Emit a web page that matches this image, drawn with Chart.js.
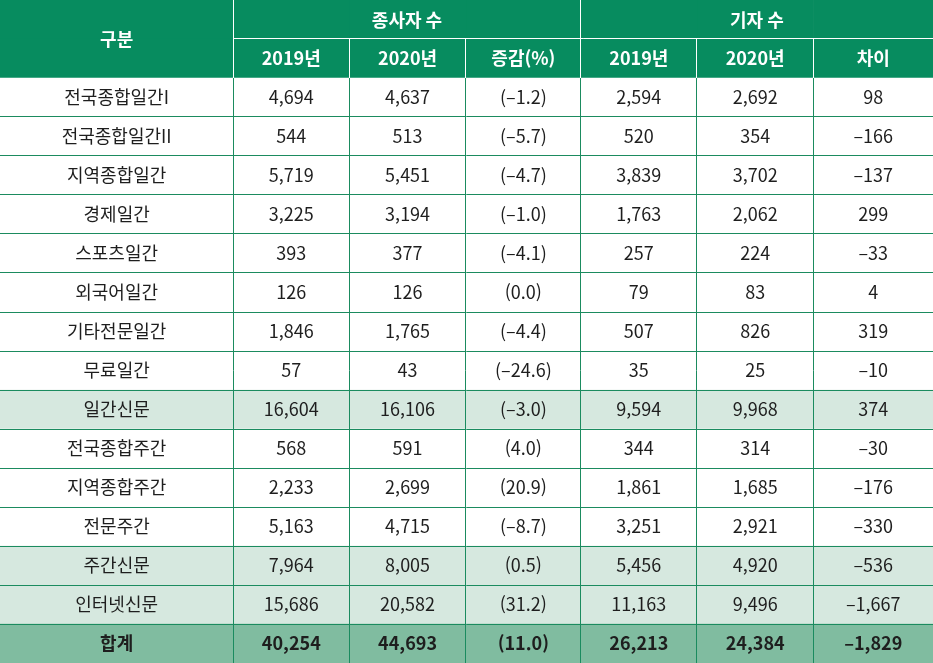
<!DOCTYPE html>
<html lang="ko">
<head>
  <meta charset="UTF-8">
  <script src="https://cdn.jsdelivr.net/npm/chart.js@4.4.1/dist/chart.umd.min.js"></script>
  <title>종사자 수 / 기자 수</title>
  <style>
    html, body { margin: 0; padding: 0; background: #fff; }
    #wrap { width: 933px; height: 663px; }
  </style>
</head>
<body>
  <div id="wrap"><canvas id="myChart"></canvas></div>
  <script>
  // 표 데이터
  const rowLabels = ['전국종합일간I', '전국종합일간II', '지역종합일간', '경제일간', '스포츠일간', '외국어일간',
    '기타전문일간', '무료일간', '일간신문', '전국종합주간', '지역종합주간', '전문주간', '주간신문', '인터넷신문', '합계'];
  const staff2019 = [4694, 544, 5719, 3225, 393, 126, 1846, 57, 16604, 568, 2233, 5163, 7964, 15686, 40254];
  const staff2020 = [4637, 513, 5451, 3194, 377, 126, 1765, 43, 16106, 591, 2699, 4715, 8005, 20582, 44693];
  const staffChange = [-1.2, -5.7, -4.7, -1.0, -4.1, 0.0, -4.4, -24.6, -3.0, 4.0, 20.9, -8.7, 0.5, 31.2, 11.0];
  const reporters2019 = [2594, 520, 3839, 1763, 257, 79, 507, 35, 9594, 344, 1861, 3251, 5456, 11163, 26213];
  const reporters2020 = [2692, 354, 3702, 2062, 224, 83, 826, 25, 9968, 314, 1685, 2921, 4920, 9496, 24384];
  const reporterDiff = [98, -166, -137, 299, -33, 4, 319, -10, 374, -30, -176, -330, -536, -1667, -1829];

  const firstHeader = '구분';
  const groupHeaders = ['종사자 수', '기자 수'];
  const subHeaders = ['2019년', '2020년', '증감(%)', '2019년', '2020년', '차이'];
  const subtotalRows = ['일간신문', '주간신문', '인터넷신문'];
  const totalRow = '합계';

  // 레이아웃 (열 너비 비율, 합 = 8)
  const colSpans = [2, 0.995, 1, 0.985, 0.995, 1, 1.025];
  const HEADER_ROWS = 2;
  const GREEN = '#078c5f';
  const LINE = '#1b8b5f';
  const LIGHT = '#d6e8df';
  const TOTAL = '#80bca0';
  const FONT = '"Noto Sans CJK KR", "Noto Sans", sans-serif';

  const fmt = v => v.toLocaleString('en-US').replace('-', '\u2013');
  function bodyCells(i) {
    return [rowLabels[i], fmt(staff2019[i]), fmt(staff2020[i]), '(' + staffChange[i].toFixed(1).replace('-', '\u2013') + ')',
      fmt(reporters2019[i]), fmt(reporters2020[i]), fmt(reporterDiff[i])];
  }

  const yLabels = ['head1', 'head2'].concat(rowLabels);
  const lastRow = yLabels.length - 1;

  function rowColor(r) {
    if (r < HEADER_ROWS) return GREEN;
    const name = yLabels[r];
    if (name === totalRow) return TOTAL;
    if (subtotalRows.includes(name)) return LIGHT;
    return '#ffffff';
  }

  // 열마다 하나의 데이터셋, 셀 = 떠있는 막대
  let start = 0;
  const datasets = colSpans.map(span => {
    const range = [start, start + span];
    start += span;
    return {
      data: yLabels.map(() => range),
      backgroundColor: ctx => rowColor(ctx.dataIndex),
      borderWidth: 0,
      barPercentage: 1,
      categoryPercentage: 1,
      grouped: false
    };
  });

  const tableLines = {
    id: 'tableLines',
    afterDatasetsDraw(chart) {
      const ctx = chart.ctx;
      const cell = (r, c) => chart.getDatasetMeta(c).data[r];
      const L = e => Math.min(e.x, e.base), R = e => Math.max(e.x, e.base);
      const T = e => e.y - e.height / 2, B = e => e.y + e.height / 2;
      const snap = v => Math.floor(v) + 0.5;
      const nCols = colSpans.length;
      const line = (x1, y1, x2, y2, color) => {
        ctx.beginPath();
        ctx.moveTo(x1, y1);
        ctx.lineTo(x2, y2);
        ctx.strokeStyle = color;
        ctx.stroke();
      };
      ctx.save();
      ctx.lineWidth = 1;

      // 헤더 (흰 선)
      const x0 = snap(R(cell(0, 0)));
      line(x0, T(cell(0, 0)), x0, B(cell(1, 0)), '#ffffff');
      const yh = snap(B(cell(0, 1)));
      line(L(cell(0, 1)), yh, R(cell(0, nCols - 1)), yh, '#ffffff');
      const x3 = snap(R(cell(0, 3)));
      line(x3, T(cell(0, 3)), x3, B(cell(0, 3)), '#ffffff');
      for (let c = 1; c < nCols - 1; c++) {
        const e = cell(1, c);
        line(snap(R(e)), T(e), snap(R(e)), B(e), '#ffffff');
      }

      // 본문 (녹색 선)
      for (let c = 0; c < nCols - 1; c++) {
        const x = snap(R(cell(HEADER_ROWS, c)));
        line(x, T(cell(HEADER_ROWS, c)), x, B(cell(lastRow, c)), LINE);
      }
      for (let r = HEADER_ROWS; r < lastRow; r++) {
        const y = snap(B(cell(r, 0)));
        line(L(cell(r, 0)), y, R(cell(r, nCols - 1)), y, LINE);
      }
      ctx.restore();
    }
  };

  const tableText = {
    id: 'tableText',
    afterDatasetsDraw(chart) {
      const ctx = chart.ctx;
      const cell = (r, c) => chart.getDatasetMeta(c).data[r];
      const cx = e => (e.x + e.base) / 2;
      ctx.save();
      ctx.textAlign = 'center';
      ctx.textBaseline = 'middle';

      ctx.fillStyle = '#ffffff';
      ctx.font = 'bold 18px ' + FONT;
      const a = cell(0, 0), b = cell(1, 0);
      ctx.fillText(firstHeader, cx(a), (a.y + b.y) / 2);
      groupHeaders.forEach((g, i) => {
        const first = cell(0, 1 + i * 3), last = cell(0, 3 + i * 3);
        ctx.fillText(g, (first.base + last.x) / 2, first.y + 1);
      });
      subHeaders.forEach((s, i) => {
        const e = cell(1, i + 1);
        ctx.fillText(s, cx(e), e.y);
      });

      ctx.fillStyle = '#1e1e1e';
      rowLabels.forEach((name, i) => {
        const r = i + HEADER_ROWS;
        ctx.font = (name === totalRow ? 'bold ' : '') + '18px ' + FONT;
        bodyCells(i).forEach((t, c) => {
          const e = cell(r, c);
          ctx.fillText(t, cx(e), e.y);
        });
      });
      ctx.restore();
    }
  };

  new Chart(document.getElementById('myChart'), {
    type: 'bar',
    data: { labels: yLabels, datasets: datasets },
    options: {
      indexAxis: 'y',
      responsive: true,
      maintainAspectRatio: false,
      animation: false,
      layout: { padding: 0 },
      scales: {
        x: { type: 'linear', min: 0, max: 8, display: false },
        y: { type: 'category', display: false }
      },
      plugins: { legend: { display: false }, tooltip: { enabled: false } },
      events: []
    },
    plugins: [tableLines, tableText]
  });
  </script>
</body>
</html>
